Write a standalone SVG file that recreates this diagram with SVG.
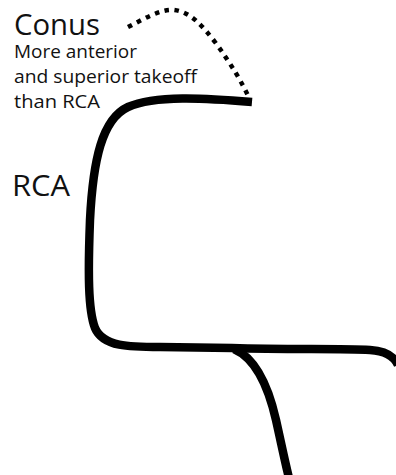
<svg xmlns="http://www.w3.org/2000/svg" width="396" height="475" viewBox="0 0 396 475">
  <style>
    .vessel { fill: none; stroke: #000; stroke-width: 8.5; stroke-linecap: butt; stroke-linejoin: round; }
    .conus { fill: none; stroke: #000; stroke-width: 4.5; stroke-dasharray: 4.5 5.5; }
    .label { font-family: "Open Sans", "Noto Sans", sans-serif; fill: #111; }
  </style>
  <rect width="396" height="475" fill="#fff"/>
  <g id="connectors">
    <!-- right coronary artery main course -->
    <path class="vessel" d="M252,102 C 205,98 155,95 128,107 C 102,119 93,160 90,220 C 88,272 88,310 95,328 C 103,347 130,347 160,347 L 232,348 C 290,350 340,348 370,350 C 386,351 394,356 398,365"/>
    <!-- distal branch heading down -->
    <path class="vessel" d="M234,349 C 255,358 268,385 276,420 C 282,447 285,462 289,478"/>
    <!-- conus branch -->
    <path class="conus" d="M128,27 C 144,19 160,9 174,10 C 190,12 201,24 215,42 C 231,64 242,82 250,100"/>
  </g>
  <g id="conus-label">
    <text class="label" x="14" y="35" font-size="29" textLength="86" lengthAdjust="spacingAndGlyphs">Conus</text>
  </g>
  <g id="conus-note">
    <text class="label" x="14" y="58" font-size="17.5" textLength="123" lengthAdjust="spacingAndGlyphs">More anterior</text>
    <text class="label" x="14" y="83" font-size="17.5" textLength="183" lengthAdjust="spacingAndGlyphs">and superior takeoff</text>
    <text class="label" x="14" y="108" font-size="17.5" textLength="86" lengthAdjust="spacingAndGlyphs">than RCA</text>
  </g>
  <g id="rca-label">
    <text class="label" x="12" y="196" font-size="30" textLength="58" lengthAdjust="spacingAndGlyphs">RCA</text>
  </g>
</svg>
